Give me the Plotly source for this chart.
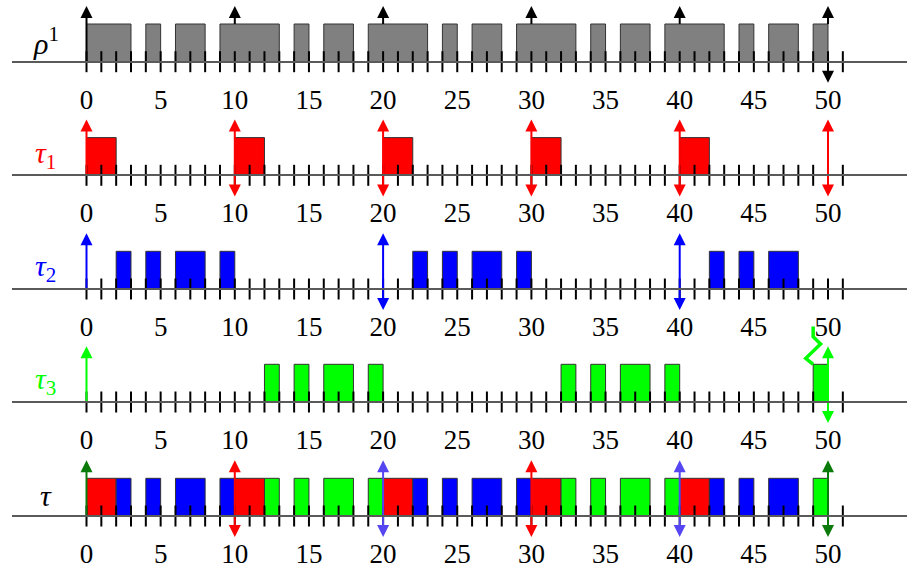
import plotly.graph_objects as go

# ---------------- data ----------------
tick_positions = list(range(0, 52))
tick_label_values = [0, 5, 10, 15, 20, 25, 30, 35, 40, 45, 50]
tick_label_texts = [str(v) for v in tick_label_values]

row_names = ["<i>ρ</i><sup>1</sup>", "<i>τ</i><sub>1</sub>", "<i>τ</i><sub>2</sub>",
             "<i>τ</i><sub>3</sub>", "<i>τ</i>"]

tau1_exec = [(0, 2), (10, 12), (20, 22), (30, 32), (40, 42)]
tau2_exec = [(2, 3), (4, 5), (6, 8), (9, 10), (22, 23), (24, 25), (26, 28), (29, 30),
             (42, 43), (44, 45), (46, 48)]
tau3_exec = [(12, 13), (14, 15), (16, 18), (19, 20), (32, 33), (34, 35), (36, 38),
             (39, 40), (49, 50)]

tau1_releases = [0, 10, 20, 30, 40, 50]
tau1_deadlines = [10, 20, 30, 40, 50]
tau2_releases = [0, 20, 40]
tau2_deadlines = [20, 40]
tau3_releases = [0, 50]
tau3_deadlines = [50]
tau3_miss_time = 49

rho_releases = [0, 10, 20, 30, 40, 50]
rho_deadlines = [50]

# combined row arrows: (time, kind)
tau_up = {0: "dg", 10: "r", 20: "p", 30: "r", 40: "p", 50: "dg"}
tau_down = {10: "r", 20: "p", 30: "r", 40: "p", 50: "dg"}

# ---------------- style ----------------
W, H = 907, 570
ML = 12
PX0, PX50 = 86.5, 828.0
UX = (PX50 - PX0) / 50.0
X_RANGE = [-(PX0 - ML) / UX, -(PX0 - ML) / UX + (W - ML) / UX]
BASE_PX = [61.7, 175.3, 289.0, 402.0, 516.0]
UY = 37.7
Y_LO = -0.75
Y_HI = 2.15
UP_TIP = 1.48
DOWN_TIP = -0.56
HEAD = 12

RED, BLUE, GREEN, GRAY = "#ff0000", "#0000ff", "#00ff00", "#808080"
PURPLE, DGREEN = "#5546f2", "#0a7a0a"
cmap = {"r": RED, "p": PURPLE, "dg": DGREEN}
label_colors = ["black", RED, BLUE, GREEN, "black"]
FONT = "Liberation Serif"


def merge(intervals):
    out = []
    for s, e in sorted(intervals):
        if out and s <= out[-1][1]:
            out[-1] = (out[-1][0], max(out[-1][1], e))
        else:
            out.append((s, e))
    return out


rho_busy = merge(tau1_exec + tau2_exec + tau3_exec)

fig = go.Figure()


def ax(i):
    return ("x" if i == 0 else f"x{i+1}"), ("y" if i == 0 else f"y{i+1}")


def add_bars(i, intervals, color):
    xa, ya = ax(i)
    fig.add_trace(go.Bar(
        orientation="h", y=[0.5] * len(intervals),
        x=[e - s for s, e in intervals], base=[s for s, e in intervals],
        width=1, marker=dict(color=color, line=dict(color="#333333", width=1)),
        xaxis=xa, yaxis=ya, showlegend=False, hoverinfo="skip"))


def add_arrows(i, times, color, up=True, start=0.0):
    if not times:
        return
    xa, ya = ax(i)
    tip = UP_TIP if up else DOWN_TIP
    end = tip - 0.2 if up else tip + 0.2
    lx, ly = [], []
    for t in times:
        lx += [t, t, None]
        ly += [start if up else 0.0, end, None]
    fig.add_trace(go.Scatter(x=lx, y=ly, mode="lines", line=dict(color=color, width=2),
                             xaxis=xa, yaxis=ya, showlegend=False, hoverinfo="skip"))
    fig.add_trace(go.Scatter(x=times, y=[tip] * len(times), mode="markers",
                             marker=dict(symbol="arrow-up" if up else "arrow-down",
                                         size=HEAD, color=color, line=dict(width=0)),
                             cliponaxis=False,
                             xaxis=xa, yaxis=ya, showlegend=False, hoverinfo="skip"))


# row 0: rho^1
add_bars(0, rho_busy, GRAY)
# row 1..3 tasks
add_bars(1, tau1_exec, RED)
add_bars(2, tau2_exec, BLUE)
add_bars(3, tau3_exec, GREEN)
# row 4: combined
add_bars(4, tau1_exec, RED)
add_bars(4, tau2_exec, BLUE)
add_bars(4, tau3_exec, GREEN)

# ticks on each baseline
for i in range(5):
    xa, ya = ax(i)
    fig.add_trace(go.Scatter(x=tick_positions, y=[0] * len(tick_positions), mode="markers",
                             marker=dict(symbol="line-ns", size=15,
                                         line=dict(color="black", width=2)),
                             cliponaxis=False,
                             xaxis=xa, yaxis=ya, showlegend=False, hoverinfo="skip"))

# arrows
add_arrows(0, [t for t in rho_releases if t == 0], "black", up=True, start=0.0)
add_arrows(0, [t for t in rho_releases if t != 0], "black", up=True, start=1.0)
add_arrows(0, rho_deadlines, "black", up=False)
add_arrows(1, tau1_releases, RED, up=True)
add_arrows(1, tau1_deadlines, RED, up=False)
add_arrows(2, tau2_releases, BLUE, up=True)
add_arrows(2, tau2_deadlines, BLUE, up=False)
add_arrows(3, tau3_releases, GREEN, up=True)
add_arrows(3, tau3_deadlines, GREEN, up=False)
for key in ["dg", "r", "p"]:
    add_arrows(4, [t for t, k in tau_up.items() if k == key], cmap[key], up=True)
    add_arrows(4, [t for t, k in tau_down.items() if k == key], cmap[key], up=False)

# deadline-miss zigzag for tau3
zz_dx = [0, -0.5, 0.5, 0, 0]
zz_dy = [0, 0.16, 0.54, 0.73, 1.0]
xa, ya = ax(3)
fig.add_trace(go.Scatter(x=[tau3_miss_time + d for d in zz_dx], y=[1.0 + d for d in zz_dy],
                         mode="lines", line=dict(color=GREEN, width=3.5),
                         xaxis=xa, yaxis=ya, showlegend=False, hoverinfo="skip"))

layout = dict(
    width=W, height=H, margin=dict(l=ML, r=0, t=0, b=0),
    paper_bgcolor="white", plot_bgcolor="rgba(0,0,0,0)",
    barmode="overlay", showlegend=False,
)
annotations = []
for i, b in enumerate(BASE_PX):
    top_px = max(b - Y_HI * UY, 0.0)
    bot_px = b - Y_LO * UY
    y_hi = (b - top_px) / UY
    suffix = "" if i == 0 else str(i + 1)
    layout["yaxis" + suffix] = dict(
        domain=[1 - bot_px / H, 1 - top_px / H], range=[Y_LO, y_hi],
        visible=False, fixedrange=True, anchor="x" + suffix)
    layout["xaxis" + suffix] = dict(
        domain=[0, 1], range=X_RANGE, anchor="free", position=1 - b / H,
        showline=True, linecolor="#5a5a5a", linewidth=1.5,
        showgrid=False, zeroline=False,
        tickmode="array", tickvals=tick_label_values, ticktext=tick_label_texts,
        ticks="outside", ticklen=14, tickcolor="rgba(0,0,0,0)",
        tickfont=dict(family=FONT, size=27, color="black"), fixedrange=True)
    annotations.append(dict(
        x=-2.75, y=0.55, xref="x" + suffix, yref="y" + suffix,
        text=row_names[i], showarrow=False, xanchor="center", yanchor="middle",
        font=dict(family=FONT, size=30, color=label_colors[i])))
layout["annotations"] = annotations
fig.update_layout(**layout)

fig.write_html("out.html", post_script="document.body.style.margin='0';",
               config={"displayModeBar": False})
